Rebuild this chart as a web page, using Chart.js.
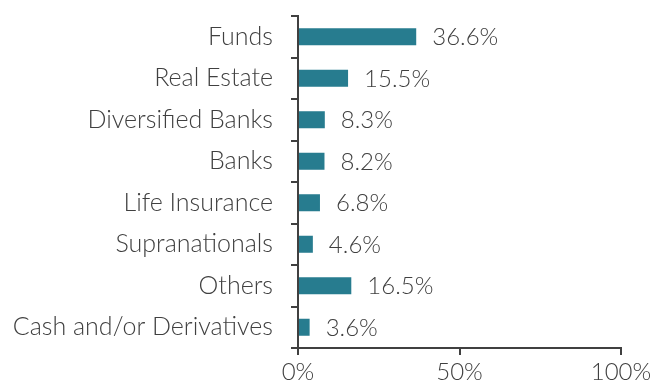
<!DOCTYPE html>
<html lang="en">
<head>
    <meta charset="UTF-8">
    <title>Sector Allocation</title>
    <script src="https://cdn.jsdelivr.net/npm/chart.js"></script>
    <style>
        body { margin: 0; background: #fff; }
        #wrap { width: 654px; height: 392px; }
    </style>
</head>
<body>
    <div id="wrap">
        <canvas id="sectorChart" width="654" height="392"></canvas>
    </div>

    <script>
        const sectors = ['Funds', 'Real Estate', 'Diversified Banks', 'Banks', 'Life Insurance',
                         'Supranationals', 'Others', 'Cash and/or Derivatives'];
        const weights = [36.6, 15.5, 8.3, 8.2, 6.8, 4.6, 16.5, 3.6];
        const xTicks = [0, 50, 100];

        const ink = '#404040';
        const fontFamily = 'Lato, "Open Sans", sans-serif';

        // writes the percentage just past the end of each bar
        const valueLabels = {
            id: 'valueLabels',
            afterDatasetsDraw(chart) {
                const ctx = chart.ctx;
                const meta = chart.getDatasetMeta(0);
                ctx.save();
                ctx.font = '300 24px ' + fontFamily;
                ctx.fillStyle = ink;
                ctx.textAlign = 'left';
                ctx.textBaseline = 'middle';
                meta.data.forEach((bar, i) => {
                    ctx.fillText(weights[i].toFixed(1) + '%', bar.x + 16, bar.y + 1);
                });
                ctx.restore();
            }
        };

        new Chart(document.getElementById('sectorChart'), {
            type: 'bar',
            data: {
                labels: sectors,
                datasets: [{
                    data: weights,
                    backgroundColor: '#277c8f',
                    barPercentage: 0.41,
                    categoryPercentage: 1
                }]
            },
            options: {
                indexAxis: 'y',
                responsive: false,
                animation: false,
                layout: { padding: { top: 16, right: 33, left: 0, bottom: 0 } },
                plugins: {
                    legend: { display: false },
                    tooltip: { enabled: false }
                },
                scales: {
                    x: {
                        min: 0,
                        max: 100,
                        afterBuildTicks: axis => { axis.ticks = xTicks.map(v => ({ value: v })); },
                        afterFit: axis => { axis.height = 44; axis.paddingLeft = 0; axis.paddingRight = 0; },
                        border: { color: ink, width: 2 },
                        grid: { drawOnChartArea: false, color: ink, lineWidth: 2, tickLength: 7 },
                        ticks: {
                            color: ink,
                            padding: 3,
                            font: { family: fontFamily, size: 24, weight: 300 },
                            callback: v => v + '%'
                        }
                    },
                    y: {
                        afterFit: axis => { axis.width = 298; axis.paddingTop = 0; axis.paddingBottom = 0; },
                        border: { color: ink, width: 2 },
                        grid: { offset: true, drawOnChartArea: false, color: ink, lineWidth: 2, tickLength: 7 },
                        ticks: {
                            color: ink,
                            padding: 18,
                            font: { family: fontFamily, size: 25, weight: 300 }
                        }
                    }
                }
            },
            plugins: [valueLabels]
        });
    </script>
</body>
</html>
